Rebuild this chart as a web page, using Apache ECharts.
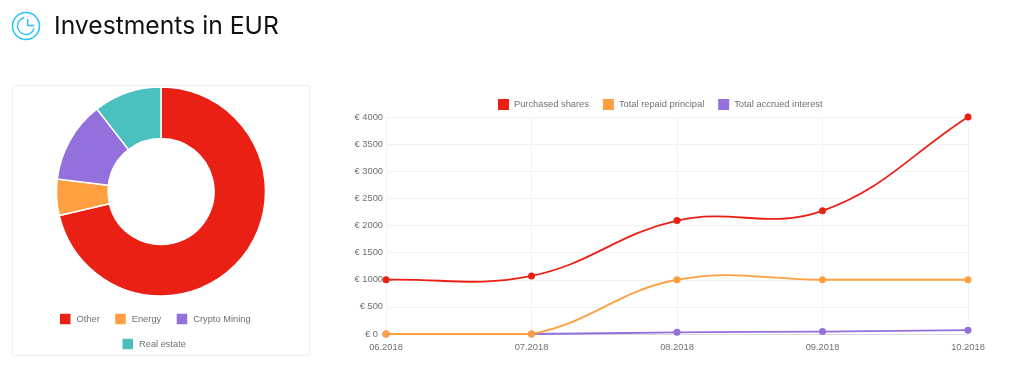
<!DOCTYPE html>
<html>
<head>
<meta charset="utf-8">
<title>Investments in EUR</title>
<script src="https://cdn.jsdelivr.net/npm/echarts@6/dist/echarts.min.js"></script>
<style>
  html, body { margin: 0; padding: 0; background: #fff; }
  #main { width: 1024px; height: 388px; }
</style>
</head>
<body>
<div id="main"></div>
<script>
const months = ["06.2018", "07.2018", "08.2018", "09.2018", "10.2018"];
const purchasedShares = [1000, 1070, 2090, 2270, 4000];
const repaidPrincipal = [0, 0, 1000, 1000, 1000];
const accruedInterest = [0, 0, 30, 45, 70];

const sectorNames = ["Other", "Energy", "Crypto Mining", "Real estate"];
const sectorValues = [2852, 224, 504, 420];
const sectorColors = ["#eb2015", "#ff9f40", "#9370db", "#4bc0c0"];

const legendFont = { color: "#707070", fontSize: 9.3, fontFamily: "Liberation Sans" };
const TENSION = 0.4;

const chart = echarts.init(document.getElementById("main"));

// echarts clamps its own smooth line, the reference curve overshoots between points
function controlPoints(pts, i, yTop, yBottom) {
  const cur = pts[i];
  const prev = pts[i - 1] || cur;
  const next = pts[i + 1] || cur;
  const d01 = Math.hypot(cur[0] - prev[0], cur[1] - prev[1]);
  const d12 = Math.hypot(next[0] - cur[0], next[1] - cur[1]);
  const sum = d01 + d12 || 1;
  const dx = next[0] - prev[0];
  const dy = next[1] - prev[1];
  const cap = (y) => Math.min(yBottom, Math.max(yTop, y));
  return {
    before: [cur[0] - TENSION * d01 / sum * dx, cap(cur[1] - TENSION * d01 / sum * dy)],
    after: [cur[0] + TENSION * d12 / sum * dx, cap(cur[1] + TENSION * d12 / sum * dy)]
  };
}

function curveSeries(name, values, color) {
  return {
    name: name,
    type: "custom",
    coordinateSystem: "cartesian2d",
    itemStyle: { color: color },
    encode: { x: 0, y: 1 },
    clip: false,
    data: values.map((v, i) => [i, v]),
    renderItem: (params, api) => {
      const i = api.value(0);
      const pts = values.map((v, k) => api.coord([k, v]));
      const yBottom = api.coord([0, 0])[1];
      const yTop = api.coord([0, 4000])[1];
      const children = [];
      if (i < pts.length - 1) {
        const a = controlPoints(pts, i, yTop, yBottom);
        const b = controlPoints(pts, i + 1, yTop, yBottom);
        children.push({
          type: "bezierCurve",
          shape: {
            x1: pts[i][0], y1: pts[i][1],
            x2: pts[i + 1][0], y2: pts[i + 1][1],
            cpx1: a.after[0], cpy1: a.after[1],
            cpx2: b.before[0], cpy2: b.before[1]
          },
          style: { fill: "none", stroke: color, lineWidth: 1.8 }
        });
      }
      children.push({
        type: "circle",
        z2: 5,
        shape: { cx: pts[i][0], cy: pts[i][1], r: 3.5 },
        style: { fill: color }
      });
      return { type: "group", children: children };
    }
  };
}

const option = {
  animation: false,
  textStyle: { fontFamily: "Liberation Sans" },
  legend: [
    {
      left: 58, top: 311.75, padding: 0, itemWidth: 12.5, itemHeight: 12.5, itemGap: 13.5, icon: "rect",
      textStyle: legendFont, data: sectorNames.slice(0, 3)
    },
    {
      left: 120.5, top: 336.75, padding: 0, itemWidth: 12.5, itemHeight: 12.5, icon: "rect",
      textStyle: legendFont, data: sectorNames.slice(3)
    },
    {
      left: 498, top: 99, padding: 0, itemWidth: 11, itemHeight: 11, itemGap: 14, icon: "rect",
      textStyle: legendFont,
      data: ["Purchased shares", "Total repaid principal", "Total accrued interest"]
    }
  ],
  grid: { left: 386, right: 56, top: 117, height: 217 },
  xAxis: {
    type: "category",
    boundaryGap: false,
    data: months,
    axisLine: { lineStyle: { color: "#dcdcdc" } },
    axisTick: { show: false },
    axisLabel: { color: "#707070", fontSize: 9.3, margin: 9 },
    splitLine: { show: true, lineStyle: { color: "#f2f2f2" } }
  },
  yAxis: {
    type: "value",
    min: 0,
    max: 4000,
    interval: 500,
    axisLine: { show: true, lineStyle: { color: "#f2f2f2" } },
    axisTick: { show: false },
    axisLabel: {
      color: "#707070",
      fontSize: 9.3,
      margin: 3,
      formatter: (v) => (v === 0 ? "{zero|€ 0}" : "€ " + v),
      rich: { zero: { color: "#707070", fontSize: 9.3, padding: [0, 5, 0, 0] } }
    },
    splitLine: { lineStyle: { color: "#f2f2f2" } }
  },
  series: [
    curveSeries("Total accrued interest", accruedInterest, "#9370db"),
    curveSeries("Total repaid principal", repaidPrincipal, "#ff9f40"),
    curveSeries("Purchased shares", purchasedShares, "#eb2015"),
    {
      type: "pie",
      center: [161, 191.5],
      radius: [53, 104.5],
      startAngle: 90,
      label: { show: false },
      labelLine: { show: false },
      itemStyle: { borderColor: "#fff", borderWidth: 1.5 },
      data: sectorNames.map((name, i) => ({
        name: name,
        value: sectorValues[i],
        itemStyle: { color: sectorColors[i] }
      }))
    }
  ],
  graphic: [
    {
      type: "rect", z: -1,
      shape: { x: 12.5, y: 85.5, width: 297, height: 270, r: 2 },
      style: { fill: "#fff", stroke: "#f0f0f0", lineWidth: 1, shadowBlur: 2, shadowColor: "rgba(0,0,0,0.05)" }
    },
    {
      type: "circle",
      shape: { cx: 26, cy: 26, r: 13.5 },
      style: { fill: "none", stroke: "#29c4f5", lineWidth: 1.6 }
    },
    {
      type: "arc",
      shape: { cx: 26, cy: 26, r: 8.5, startAngle: 0.3, endAngle: 4.5, clockwise: true },
      style: { fill: "none", stroke: "#29c4f5", lineWidth: 1.4 }
    },
    {
      type: "polyline",
      shape: { points: [[27.7, 19], [27.7, 25.5], [34.5, 25.5]] },
      style: { fill: "none", stroke: "#29c4f5", lineWidth: 1.4 }
    },
    {
      type: "text",
      x: 54, y: 14,
      style: { text: "Investments in EUR", fill: "#111", font: "24.7px Inter" }
    }
  ]
};

chart.setOption(option);
window.addEventListener("resize", () => {
  chart.resize();
});
</script>
</body>
</html>
